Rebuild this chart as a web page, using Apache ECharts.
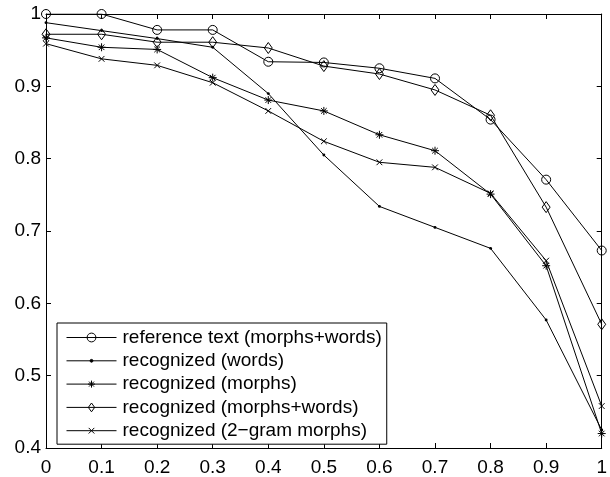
<!DOCTYPE html>
<html>
<head>
<meta charset="utf-8">
<script src="https://cdn.jsdelivr.net/npm/echarts@6/dist/echarts.min.js"></script>
<style>html,body{margin:0;padding:0;background:#fff}#c{width:610px;height:477px}</style>
</head>
<body>
<div id="c"></div>
<script>
const xValues = [0, 0.1, 0.2, 0.3, 0.4, 0.5, 0.6, 0.7, 0.8, 0.9, 1];
const seriesNames = ['reference text (morphs+words)', 'recognized (words)', 'recognized (morphs)', 'recognized (morphs+words)', 'recognized (2\u2212gram morphs)'];
const refText = [1.0, 1.0, 0.978, 0.978, 0.934, 0.933, 0.925, 0.911, 0.854, 0.771, 0.673];
const recWords = [0.988, 0.977, 0.966, 0.954, 0.890, 0.805, 0.734, 0.705, 0.676, 0.577, 0.425];
const recMorphs = [0.967, 0.954, 0.951, 0.912, 0.881, 0.866, 0.833, 0.811, 0.751, 0.652, 0.420];
const recMorphsWords = [0.972, 0.972, 0.961, 0.961, 0.953, 0.928, 0.917, 0.895, 0.860, 0.733, 0.571];
const rec2gram = [0.959, 0.938, 0.929, 0.905, 0.866, 0.824, 0.795, 0.788, 0.752, 0.659, 0.458];
const yTicks = [0.4, 0.5, 0.6, 0.7, 0.8, 0.9, 1];

const FONT = 'Liberation Sans, Arial, Helvetica, sans-serif';
const fmt = v => String(+(+v).toFixed(1));
const star = 'path://M0,0 M10,10 M5,1 L5,9 M1,5 L9,5 M2.2,2.2 L7.8,7.8 M2.2,7.8 L7.8,2.2';
const cross = 'path://M0,0 M10,10 M1.8,1.8 L8.2,8.2 M1.8,8.2 L8.2,1.8';
const dot = 'path://M0,0 M10,10 M3.4,5 A1.6,1.6 0 1 1 6.6,5 A1.6,1.6 0 1 1 3.4,5 Z';
const diamond = 'path://M0,0 M10,10 M5,0 L8.6,5 L5,10 L1.4,5 Z';

function mk(name, vals, symbol, size, filled) {
  return {
    name: name,
    type: 'line',
    data: xValues.map((x, i) => [x, vals[i]]),
    symbol: symbol,
    symbolSize: size,
    showAllSymbol: true,
    lineStyle: { color: '#000', width: 1 },
    itemStyle: { color: filled ? '#000' : 'rgba(0,0,0,0)', borderColor: '#000', borderWidth: filled ? 0 : 1 },
    emphasis: { disabled: true },
    animation: false
  };
}

const axisCommon = {
  type: 'value',
  axisLine: { show: true, onZero: false, lineStyle: { color: '#000', width: 1 } },
  axisTick: { show: true, inside: true, length: 5, lineStyle: { color: '#000', width: 1 } },
  splitLine: { show: false },
  axisLabel: { color: '#000', fontFamily: FONT, fontSize: 19, formatter: fmt }
};

const chart = echarts.init(document.getElementById('c'), null, { renderer: 'canvas' });
chart.setOption({
  animation: false,
  backgroundColor: '#fff',
  grid: { left: 46, right: 8, top: 14, bottom: 25, containLabel: false },
  xAxis: [
    Object.assign({}, axisCommon, { position: 'bottom', min: 0, max: 1, interval: 0.1,
      axisLabel: Object.assign({}, axisCommon.axisLabel, { margin: 10 }) }),
    Object.assign({}, axisCommon, { position: 'top', min: 0, max: 1, interval: 0.1,
      axisLabel: { show: false } })
  ],
  yAxis: [
    Object.assign({}, axisCommon, { position: 'left', min: yTicks[0], max: yTicks[yTicks.length - 1], interval: 0.1,
      axisLabel: Object.assign({}, axisCommon.axisLabel, { margin: 5 }) }),
    Object.assign({}, axisCommon, { position: 'right', min: yTicks[0], max: yTicks[yTicks.length - 1], interval: 0.1,
      axisLabel: { show: false } })
  ],
  legend: {
    orient: 'vertical',
    left: 57,
    top: 323,
    data: seriesNames,
    backgroundColor: '#fff',
    borderColor: '#000',
    borderWidth: 1,
    borderRadius: 0,
    padding: [5, 5, 4, 9],
    itemWidth: 50,
    itemHeight: 11,
    itemGap: 4.3,
    selectedMode: false,
    lineStyle: { width: 1, color: '#000' },
    itemStyle: { borderWidth: 1, borderColor: '#000' },
    textStyle: { color: '#000', fontFamily: FONT, fontSize: 19, lineHeight: 19, padding: [0, 0, 0, 1] }
  },
  series: [
    mk(seriesNames[0], refText, 'circle', 9, false),
    mk(seriesNames[1], recWords, dot, 9, true),
    mk(seriesNames[2], recMorphs, star, 10, false),
    mk(seriesNames[3], recMorphsWords, diamond, 11, false),
    mk(seriesNames[4], rec2gram, cross, 9, false)
  ]
});
</script>
</body>
</html>
